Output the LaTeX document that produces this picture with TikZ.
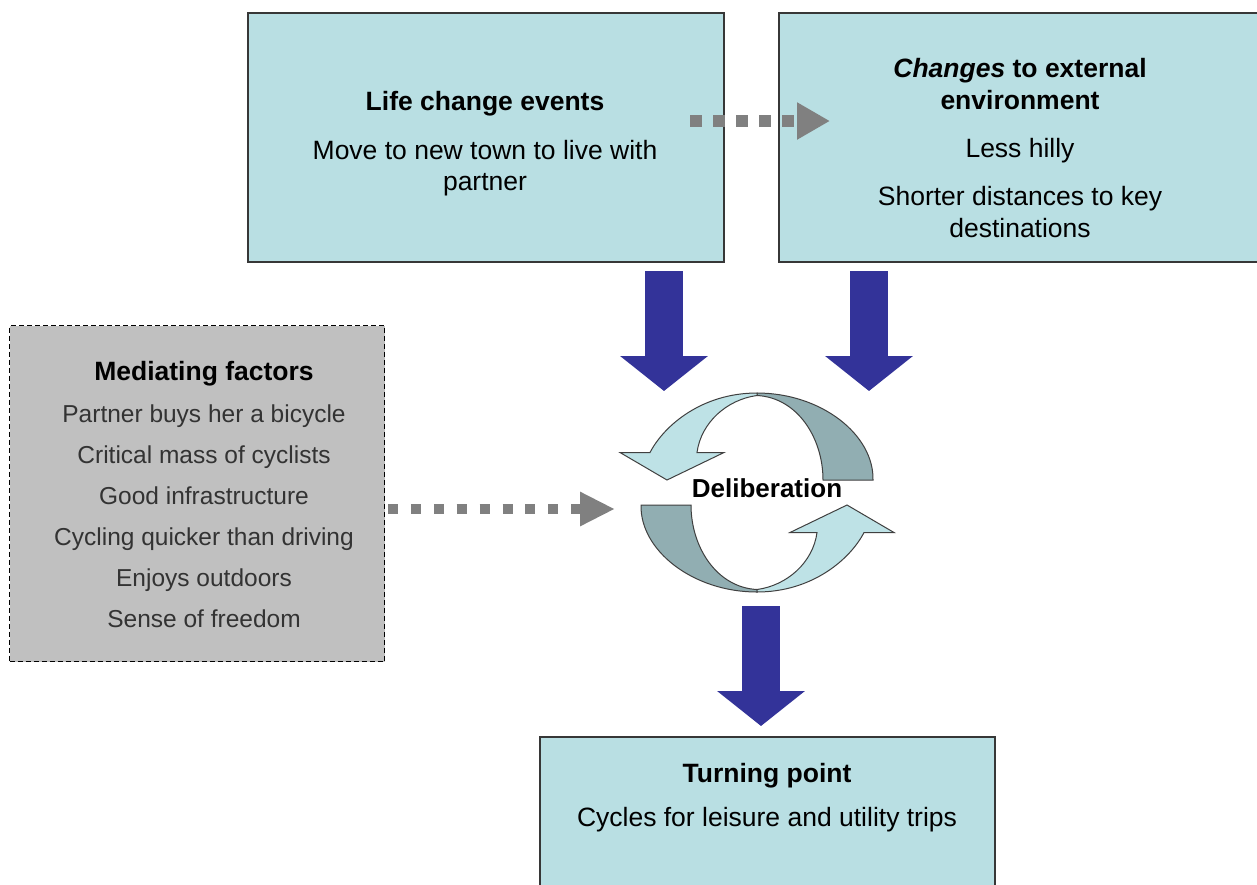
\documentclass[tikz,border=0pt]{standalone}
\usepackage{fontspec}
\setmainfont{Liberation Sans}
\usetikzlibrary{arrows.meta}
\definecolor{boxfill}{RGB}{185,223,227}
\definecolor{boxline}{RGB}{55,55,55}
\definecolor{medfill}{RGB}{192,192,192}
\definecolor{navy}{RGB}{51,51,153}
\definecolor{dotgray}{RGB}{128,128,128}
\definecolor{cyclelight}{RGB}{190,226,230}
\definecolor{cycledark}{RGB}{145,174,178}
\begin{document}
\begin{tikzpicture}[x=1pt,y=-1pt,
  box/.style={draw=boxline,line width=1.6pt,fill=boxfill,anchor=north west,inner sep=0pt},
  medbox/.style={draw=black,dash pattern=on 5pt off 3pt,line width=1.2pt,fill=medfill,anchor=north west,inner sep=0pt},
  txt/.style={anchor=base,inner sep=0pt,font=\fontsize{26.5}{30}\selectfont},
  ttl/.style={anchor=base,inner sep=0pt,font=\fontsize{26.5}{30}\selectfont\bfseries},
  medtxt/.style={anchor=base,inner sep=0pt,font=\fontsize{24.5}{28}\selectfont,text=black!80},
  bluearrow/.style={draw=navy,line width=38pt,-{Triangle[length=35pt,width=86pt]}},
  dotarrow/.style={draw=dotgray,-{Triangle[length=33pt,width=35pt]}},
  ribbonlight/.style={fill=cyclelight,draw=black!75,line width=1pt},
  ribbondark/.style={fill=cycledark,draw=black!75,line width=1pt}]
\useasboundingbox (0,0) rectangle (1257,884);
\fill[white] (0,0) rectangle (1257,884);
\clip (0,0) rectangle (1257,884);

% boxes
\node[box,minimum width=476pt,minimum height=249pt] (life) at (247,12) {};
\node[box,minimum width=490pt,minimum height=249pt] (changes) at (778,12) {};
\node[medbox,minimum width=375pt,minimum height=336pt] (med) at (9,325) {};
\node[box,minimum width=455pt,minimum height=170pt] (turn) at (539,736) {};

% texts
\node[ttl] (lifeT) at (485,110) {Life change events};
\node[txt] (lifeA) at (485,159) {Move to new town to live with};
\node[txt] (lifeB) at (485,190) {partner};

\node[ttl] (chT1) at (1020,77) {\textit{Changes} to external};
\node[ttl] (chT2) at (1020,109) {environment};
\node[txt] (chA) at (1020,157) {Less hilly};
\node[txt] (chB1) at (1020,205) {Shorter distances to key};
\node[txt] (chB2) at (1020,237) {destinations};

\node[ttl] (medT) at (204,380) {Mediating factors};
\node[medtxt] (m1) at (204,422) {Partner buys her a bicycle};
\node[medtxt] (m2) at (204,463) {Critical mass of cyclists};
\node[medtxt] (m3) at (204,504) {Good infrastructure};
\node[medtxt] (m4) at (204,545) {Cycling quicker than driving};
\node[medtxt] (m5) at (204,586) {Enjoys outdoors};
\node[medtxt] (m6) at (204,627) {Sense of freedom};

\node[ttl] (turnT) at (767,782) {Turning point};
\node[txt] (turnA) at (767,826) {Cycles for leisure and utility trips};

% deliberation cycle
\begin{scope}[shift={(757,492.5)}]
  \draw[ribbondark] (0,-99.5) .. controls (64,-99.5) and (117,-58) .. (116,-12.5)
    -- (66,-12.5) .. controls (66,-55) and (40,-95) .. (0,-97) -- cycle;
  \draw[ribbonlight] (0,-99.5) .. controls (-55,-99.5) and (-93,-67) .. (-107,-40)
    -- (-137,-40) -- (-90,-12.5) -- (-33,-40) -- (-60,-40)
    .. controls (-56,-70) and (-30,-93) .. (0,-97) -- cycle;
\end{scope}
\begin{scope}[shift={(757,492.5)},rotate=180]
  \draw[ribbondark] (0,-99.5) .. controls (64,-99.5) and (117,-58) .. (116,-12.5)
    -- (66,-12.5) .. controls (66,-55) and (40,-95) .. (0,-97) -- cycle;
  \draw[ribbonlight] (0,-99.5) .. controls (-55,-99.5) and (-93,-67) .. (-107,-40)
    -- (-137,-40) -- (-90,-12.5) -- (-33,-40) -- (-60,-40)
    .. controls (-56,-70) and (-30,-93) .. (0,-97) -- cycle;
\end{scope}
\node[ttl,font=\fontsize{26}{30}\selectfont\bfseries] (delib) at (767,497) {Deliberation};

% block arrows
\coordinate (a1s) at (664,271);
\coordinate (a1e) at (664,391);
\coordinate (a2s) at (869,271);
\coordinate (a2e) at (869,391);
\coordinate (a3s) at (761,606);
\coordinate (a3e) at (761,726);
\draw[bluearrow] (a1s) -- (a1e);
\draw[bluearrow] (a2s) -- (a2e);
\draw[bluearrow] (a3s) -- (a3e);

% dotted arrows
\coordinate (d1s) at (690,121);
\coordinate (d1e) at (830,121);
\draw[dotarrow,line width=12pt,dash pattern=on 12pt off 11pt] (d1s) -- (d1e);
\coordinate (d2s) at (388,509);
\coordinate (d2e) at (615,509);
\draw[dotarrow,line width=10pt,dash pattern=on 10pt off 12.9pt,-{Triangle[length=35pt,width=32pt]}] (d2s) -- (d2e);
\end{tikzpicture}
\end{document}
